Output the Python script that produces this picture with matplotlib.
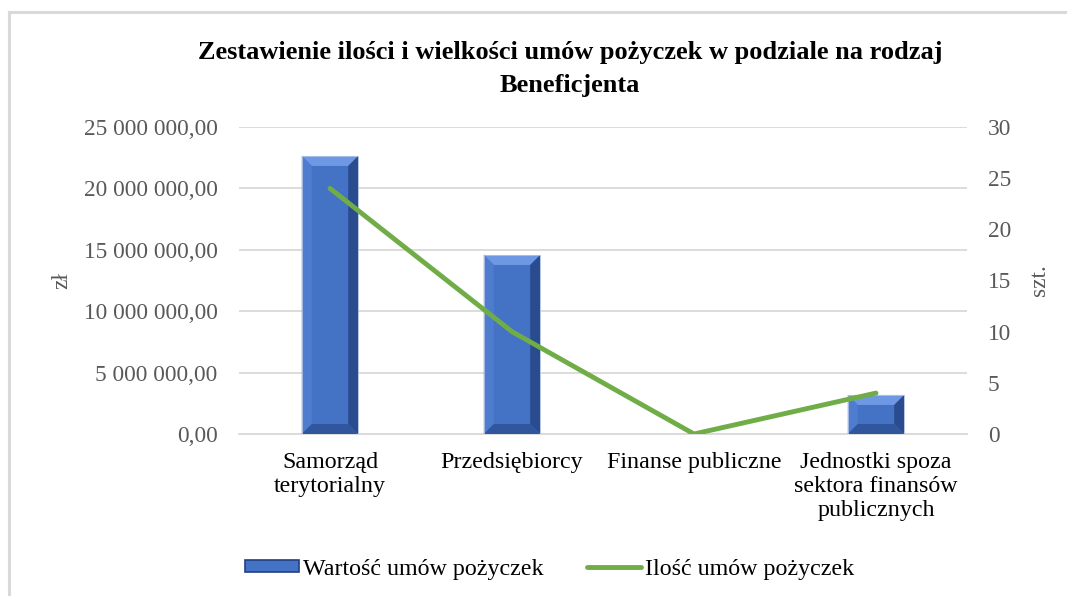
import numpy as np
import matplotlib.pyplot as plt
from matplotlib.patches import Polygon, Rectangle
from matplotlib.lines import Line2D
from matplotlib.patches import Patch

plt.rcParams['font.family'] = ['Liberation Serif', 'DejaVu Serif']

categories = ["Samorząd\nterytorialny", "Przedsiębiorcy", "Finanse publiczne",
              "Jednostki spoza\nsektora finansów\npublicznych"]
values_pln = [22640000, 14580000, 0, 3180000]
counts = [24, 10, 0, 4]

title = "Zestawienie ilości i wielkości umów pożyczek w podziale na rodzaj\nBeneficjenta"
bar_label = "Wartość umów pożyczek"
line_label = "Ilość umów pożyczek"

W, H = 1067, 596
fig = plt.figure(figsize=(W / 100, H / 100), dpi=100)
ax = fig.add_axes([239 / W, 1 - 434 / H, 728 / W, 307 / H])
ax2 = ax.twinx()

x = np.arange(len(categories))
bar_w = 0.31
base_col = '#4472C4'
bars = ax.bar(x, values_pln, width=bar_w, color=base_col, zorder=2)

ax.set_xlim(-0.5, len(categories) - 0.5)
ax.set_ylim(0, 25000000)
yt = np.arange(0, 25000001, 5000000)
ax.set_yticks(yt)
ax.set_yticklabels([f"{v:,.2f}".replace(",", " ").replace(".", ",") for v in yt])
ax2.set_ylim(0, 30)
ax2.set_yticks(np.arange(0, 31, 5))

fs = 16.8
fx = 17.3
ax.grid(axis='y', color='#D9D9D9', linewidth=1.3, zorder=0)
ax.set_axisbelow(True)
for a in (ax, ax2):
    for s in a.spines.values():
        s.set_visible(False)
    a.tick_params(length=0, labelsize=fs, labelcolor='#595959')
ax.spines['bottom'].set_visible(True)
ax.spines['bottom'].set_color('#D9D9D9')
ax.spines['bottom'].set_linewidth(1.3)
ax.tick_params(axis='x', labelsize=fx, labelcolor='#000000', pad=13)
ax.tick_params(axis='y', pad=15.5)
ax2.tick_params(axis='y', pad=15)
ax.set_xticks(x)
ax.set_xticklabels(categories, linespacing=1.2)

ax.set_ylabel("zł", fontsize=fs, color='#595959', labelpad=8)
ax2.set_ylabel("szt.", fontsize=fs, color='#595959', labelpad=13)

# bevel effect on bars (drawn in pixel space from bar geometry)
fig.canvas.draw()
inv = ax.transData.inverted()
bev = 10
for b in bars:
    if b.get_height() <= 0:
        continue
    x0, y0 = ax.transData.transform((b.get_x(), 0))
    x1, y1 = ax.transData.transform((b.get_x() + b.get_width(), b.get_height()))
    d = min(bev, (y1 - y0) / 2, (x1 - x0) / 2)
    outer = [(x0, y0), (x1, y0), (x1, y1), (x0, y1)]
    inner = [(x0 + d, y0 + d), (x1 - d, y0 + d), (x1 - d, y1 - d), (x0 + d, y1 - d)]
    faces = [
        ([outer[3], outer[2], inner[2], inner[3]], '#6F98E4'),  # top
        ([outer[0], outer[3], inner[3], inner[0]], '#4F7CCF'),  # left
        ([outer[2], outer[1], inner[1], inner[2]], '#2A4C8E'),  # right
        ([outer[1], outer[0], inner[0], inner[1]], '#30579E'),  # bottom
    ]
    for pts, c in faces:
        ax.add_patch(Polygon(inv.transform(pts), closed=True, facecolor=c,
                             edgecolor='none', zorder=3))
    ax.add_patch(Rectangle((b.get_x(), 0), b.get_width(), b.get_height(),
                           facecolor='none', edgecolor='#B4C4E4', linewidth=0.6, zorder=4))

ax2.plot(x, counts, color='#70AD47', linewidth=3.5, solid_capstyle='round', zorder=5)

fig.text(570 / W, 1 - 69 / H, title, ha='center', va='center', fontsize=19,
         fontweight='bold', linespacing=1.55)

handles = [Patch(facecolor=base_col, edgecolor='#22407E', linewidth=1.2),
           Line2D([0], [0], color='#70AD47', linewidth=3.5, solid_capstyle='round')]
fig.legend(handles, [bar_label, line_label], loc='center', bbox_to_anchor=(550 / W, 1 - 569 / H),
           ncol=2, frameon=False, fontsize=fx, handlelength=2.25, handleheight=0.4,
           columnspacing=1.8, handletextpad=0.17)

# chart border (left and top only visible)
fig.add_artist(Line2D([9 / W, 9 / W], [0, 1 - 12 / H], color='#D9D9D9', linewidth=2.2))
fig.add_artist(Line2D([9 / W, 1], [1 - 12 / H, 1 - 12 / H], color='#D9D9D9', linewidth=2.2))

fig.savefig("out.png", dpi=100)
